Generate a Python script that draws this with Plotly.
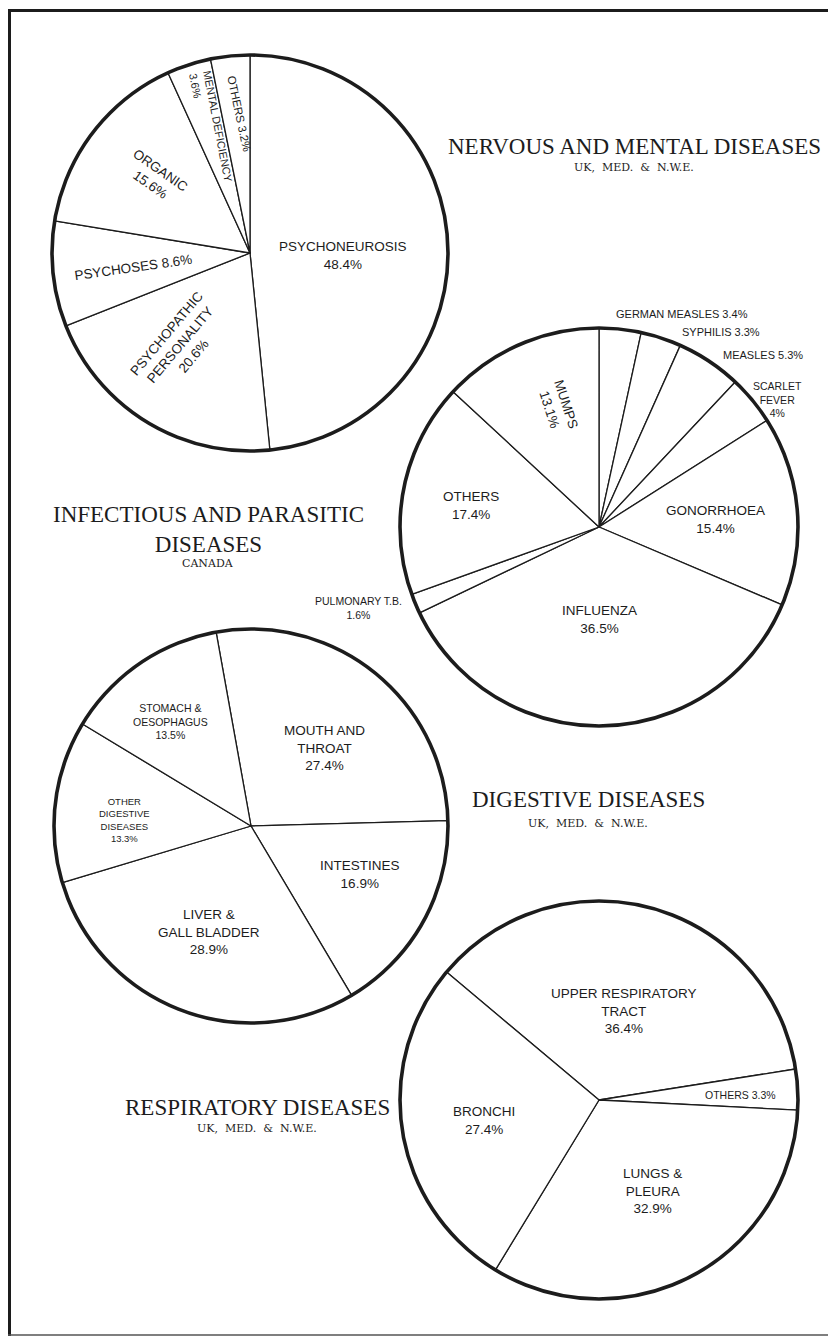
import plotly.graph_objects as go

# page is 836x1337; the browser puts the plot 8px in from the top-left corner
PAGE_W, PAGE_H = 836, 1337
OFF = 8
FW, FH = PAGE_W - OFF, PAGE_H - OFF

# ---------------- data ----------------
nervous_labels = ["PSYCHONEUROSIS", "PSYCHOPATHIC<br>PERSONALITY", "PSYCHOSES", "ORGANIC",
                  "MENTAL DEFICIENCY", "OTHERS"]
nervous_values = [48.4, 20.6, 8.6, 15.6, 3.6, 3.2]

infectious_labels = ["GERMAN MEASLES", "SYPHILIS", "MEASLES", "SCARLET<br>FEVER", "GONORRHOEA",
                     "INFLUENZA", "PULMONARY T.B.", "OTHERS", "MUMPS"]
infectious_values = [3.4, 3.3, 5.3, 4, 15.4, 36.5, 1.6, 17.4, 13.1]

digestive_labels = ["MOUTH AND<br>THROAT", "INTESTINES", "LIVER &<br>GALL BLADDER",
                    "OTHER<br>DIGESTIVE<br>DISEASES", "STOMACH &<br>OESOPHAGUS"]
digestive_values = [27.4, 16.9, 28.9, 13.3, 13.5]

respiratory_labels = ["UPPER RESPIRATORY<br>TRACT", "OTHERS", "LUNGS &<br>PLEURA", "BRONCHI"]
respiratory_values = [36.4, 3.3, 32.9, 27.4]

titles = ["NERVOUS AND MENTAL DISEASES", "INFECTIOUS AND PARASITIC<br>DISEASES",
          "DIGESTIVE DISEASES", "RESPIRATORY DISEASES"]
subtitles = ["UK,  MED.  &amp;  N.W.E.", "CANADA", "UK,  MED.  &amp;  N.W.E.", "UK,  MED.  &amp;  N.W.E."]

# ---------------- layout / style ----------------
SANS = "Liberation Sans, Arial, sans-serif"
SERIF = "Liberation Serif, Times New Roman, serif"
SMALL_SERIF = "DejaVu Serif, Liberation Serif, serif"
INK = "#1c1c1c"

# pie geometry in page pixels: centre x, centre y, radius, rotation (deg, clockwise)
pies = [
    dict(labels=nervous_labels, values=nervous_values, cx=250, cy=253, r=198, rot=0),
    dict(labels=infectious_labels, values=infectious_values, cx=599, cy=527, r=199, rot=0),
    dict(labels=digestive_labels, values=digestive_values, cx=251, cy=826, r=197, rot=-10.2),
    dict(labels=respiratory_labels, values=respiratory_values, cx=599, cy=1100, r=199, rot=-50),
]

# label placement (page pixels): x, y, textangle, font size, separator, align
label_style = [
    [  # nervous
        (343, 255, 0, 13.5, "<br>", "center"),
        (180, 345, -50, 13.5, "<br>", "center"),
        (133, 267, -8, 13.5, " ", "center"),
        (155, 177, 35, 13.5, "<br>", "center"),
        (211, 128, 79, 11, "<br>", "left"),
        (239, 113, 78, 11.5, " ", "center"),
    ],
    [  # infectious
        (682, 314, 0, 11, " ", "center"),
        (721, 332, 0, 11, " ", "center"),
        (763, 355, 0, 11, " ", "center"),
        (777, 399, 0, 10.5, "<br>", "center"),
        (715, 519, 0, 13.5, "<br>", "center"),
        (599, 619, 0, 13.5, "<br>", "center"),
        (358, 608, 0, 10.5, "<br>", "center"),
        (471, 506, 0, 13.5, "<br>", "center"),
        (557, 407, 72, 13.5, "<br>", "center"),
    ],
    [  # digestive
        (324, 748, 0, 13.5, "<br>", "center"),
        (360, 874, 0, 13.5, "<br>", "center"),
        (209, 932, 0, 13.5, "<br>", "center"),
        (124, 820, 0, 9.5, "<br>", "center"),
        (170, 721, 0, 10.5, "<br>", "center"),
    ],
    [  # respiratory
        (624, 1011, 0, 13.5, "<br>", "center"),
        (740, 1095, 0, 10.5, " ", "center"),
        (652, 1191, 0, 13.5, "<br>", "center"),
        (484, 1120, 0, 13.5, "<br>", "center"),
    ],
]

# title positions: x, y of title block centre, y of subtitle
title_pos = [(634, 146, 168), (208, 530, 563), (588, 799, 823), (257, 1107, 1128)]


def px(x):
    return (x - OFF) / FW


def py(y):
    return 1 - (y - OFF) / FH


fig = go.Figure()
shapes = []
annotations = []

for p, styles in zip(pies, label_style):
    cx, cy, r = p["cx"], p["cy"], p["r"]
    fig.add_trace(go.Pie(
        labels=[l.replace("<br>", " ") for l in p["labels"]],
        values=p["values"],
        sort=False,
        direction="clockwise",
        rotation=p["rot"],
        textinfo="none",
        textposition="none",
        hoverinfo="skip",
        showlegend=False,
        marker=dict(colors=["white"] * len(p["values"]),
                    line=dict(color=INK, width=1.3)),
        domain=dict(x=[px(cx - r), px(cx + r)], y=[py(cy + r), py(cy - r)]),
    ))
    # heavy outer rim
    shapes.append(dict(type="circle", xref="paper", yref="paper",
                       x0=px(cx - r), x1=px(cx + r), y0=py(cy + r), y1=py(cy - r),
                       line=dict(color=INK, width=3.6), fillcolor="rgba(0,0,0,0)"))
    for lab, val, st in zip(p["labels"], p["values"], styles):
        x, y, ang, size, sep, align = st
        annotations.append(dict(
            x=px(x), y=py(y), xref="paper", yref="paper",
            xanchor="center", yanchor="middle", showarrow=False,
            text=f"{lab}{sep}{val:g}%", textangle=ang, align=align,
            font=dict(family=SANS, size=size, color=INK),
        ))

for t, s, (x, yt, ys) in zip(titles, subtitles, title_pos):
    annotations.append(dict(x=px(x), y=py(yt), xref="paper", yref="paper",
                            xanchor="center", yanchor="middle", showarrow=False,
                            text=t, font=dict(family=SERIF, size=23, color=INK)))
    annotations.append(dict(x=px(x), y=py(ys), xref="paper", yref="paper",
                            xanchor="center", yanchor="middle", showarrow=False,
                            text=s, font=dict(family=SMALL_SERIF, size=11, color=INK)))

# page frame (top, left and bottom edges visible in the scan)
shapes.append(dict(type="line", xref="paper", yref="paper",
                   x0=px(8), x1=px(836), y0=py(10.5), y1=py(10.5),
                   line=dict(color=INK, width=3)))
shapes.append(dict(type="line", xref="paper", yref="paper",
                   x0=px(9.5), x1=px(9.5), y0=py(10), y1=py(1336),
                   line=dict(color=INK, width=3)))
shapes.append(dict(type="line", xref="paper", yref="paper",
                   x0=px(8), x1=px(836), y0=py(1335), y1=py(1335),
                   line=dict(color="#555555", width=1.5)))

fig.update_layout(
    width=FW, height=FH,
    margin=dict(l=0, r=0, t=0, b=0),
    paper_bgcolor="white", plot_bgcolor="white",
    shapes=shapes, annotations=annotations,
    showlegend=False,
)

fig.write_html("out.html")
